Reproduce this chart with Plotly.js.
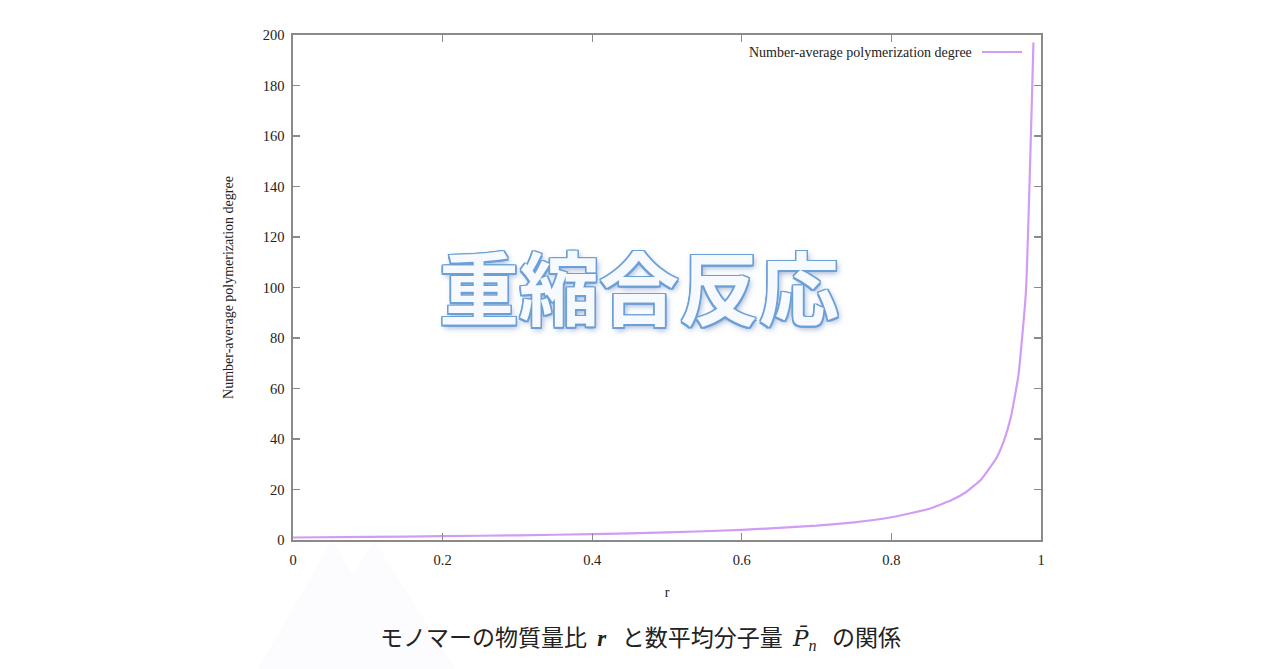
<!DOCTYPE html>
<html>
<head>
<meta charset="utf-8">
<script src="https://cdn.plot.ly/plotly-3.0.1.min.js"></script>
<style>
html,body{margin:0;padding:0;background:#fff;}
#chart{width:1280px;height:669px;}
</style>
</head>
<body>
<div id="chart"></div>
<script>
// Monomer mole ratio r and number-average polymerization degree
const ratioR = [0, 0.1, 0.2, 0.3, 0.4, 0.5, 0.6, 0.7, 0.75, 0.8, 0.85, 0.88, 0.9, 0.92, 0.94, 0.95, 0.9596, 0.9697, 0.9798, 0.9899];
const degreePn = [1, 1.22, 1.5, 1.86, 2.33, 3, 4, 5.7, 7, 9, 12.3, 15.7, 19, 24, 32.3, 39, 48.5, 65, 98, 197];
const seriesName = "Number-average polymerization degree";
const xTitle = "r";
const yTitle = "Number-average polymerization degree";
const overlayText = "重縮合反応";
const captionText = "モノマーの物質量比  <b><i><span style=\"font-family:Liberation Serif\">r</span></i></b>   と数平均分子量  <i><span style=\"font-family:DejaVu Serif\">P\u0304</span><sub><span style=\"font-family:Liberation Serif\">n</span></sub></i>   の関係";

const L = 293, R = 1041, T = 35, B = 540;
const px = x => (x - L) / (R - L);
const py = y => (B - y) / (B - T);

const serif = "Liberation Serif, DejaVu Serif, serif";
const curveColor = "#d29cf2";

const trace = {
  x: ratioR, y: degreePn, type: "scatter", mode: "lines", name: seriesName,
  line: {color: curveColor, width: 2.2, shape: "spline", smoothing: 0.4},
  showlegend: false, hoverinfo: "skip"
};

const axisCommon = {
  showline: true, linecolor: "#8a8a8a", linewidth: 1.6, mirror: "ticks",
  ticks: "inside", ticklen: 7, tickwidth: 1.2, tickcolor: "#8a8a8a",
  showgrid: false, zeroline: false,
  tickfont: {family: serif, size: 14.5, color: "#222"}
};

const layout = {
  width: 1280, height: 669,
  margin: {l: L, r: 1280 - R, t: T, b: 669 - B, pad: 0},
  paper_bgcolor: "#fff", plot_bgcolor: "#fff",
  xaxis: Object.assign({}, axisCommon, {
    range: [0, 1], dtick: 0.2, tick0: 0, ticklabelstandoff: 6,
    title: {text: xTitle, font: {family: serif, size: 14, color: "#222"}, standoff: 20}
  }),
  yaxis: Object.assign({}, axisCommon, {
    range: [0, 200], dtick: 20, tick0: 0, ticklabelstandoff: 4,
    title: {text: yTitle, font: {family: serif, size: 14, color: "#222"}, standoff: 26}
  }),
  shapes: [
    {type: "path", xref: "paper", yref: "paper", layer: "below",
     path: `M ${px(258)},${py(669)} L ${px(332)},${py(540)} L ${px(353)},${py(575)} L ${px(374)},${py(540)} L ${px(455)},${py(669)} Z`,
     fillcolor: "rgba(246,243,252,0.35)", line: {width: 0}},
    {type: "line", xref: "paper", yref: "paper",
     x0: px(982), x1: px(1022), y0: py(52), y1: py(52),
     line: {color: curveColor, width: 2.2}}
  ],
  annotations: [
    {text: seriesName, xref: "paper", yref: "paper", x: px(974), y: py(52),
     xanchor: "right", yanchor: "middle", showarrow: false,
     font: {family: serif, size: 14, color: "#222"}},
    {text: overlayText, xref: "paper", yref: "paper", x: px(639), y: py(284),
     xanchor: "center", yanchor: "middle", showarrow: false,
     font: {family: "Noto Sans CJK JP", size: 80, weight: 700, color: "#f6f9fd",
            shadow: "1.5px 1.5px 0 #6c9fd6, -1.5px -1.5px 0 #6c9fd6, 1.5px -1.5px 0 #6c9fd6, -1.5px 1.5px 0 #6c9fd6, 0 1.5px 0 #6c9fd6, 0 -1.5px 0 #6c9fd6, 1.5px 0 0 #6c9fd6, -1.5px 0 0 #6c9fd6, 2px 3px 6px rgba(60,100,170,0.55)"}},
    {text: captionText, xref: "paper", yref: "paper", x: px(640), y: py(636),
     xanchor: "center", yanchor: "middle", showarrow: false,
     font: {family: "Noto Sans CJK JP, Liberation Serif", size: 23, color: "#222"}}
  ]
};

Plotly.newPlot("chart", [trace], layout, {displayModeBar: false, staticPlot: true});
</script>
</body>
</html>
